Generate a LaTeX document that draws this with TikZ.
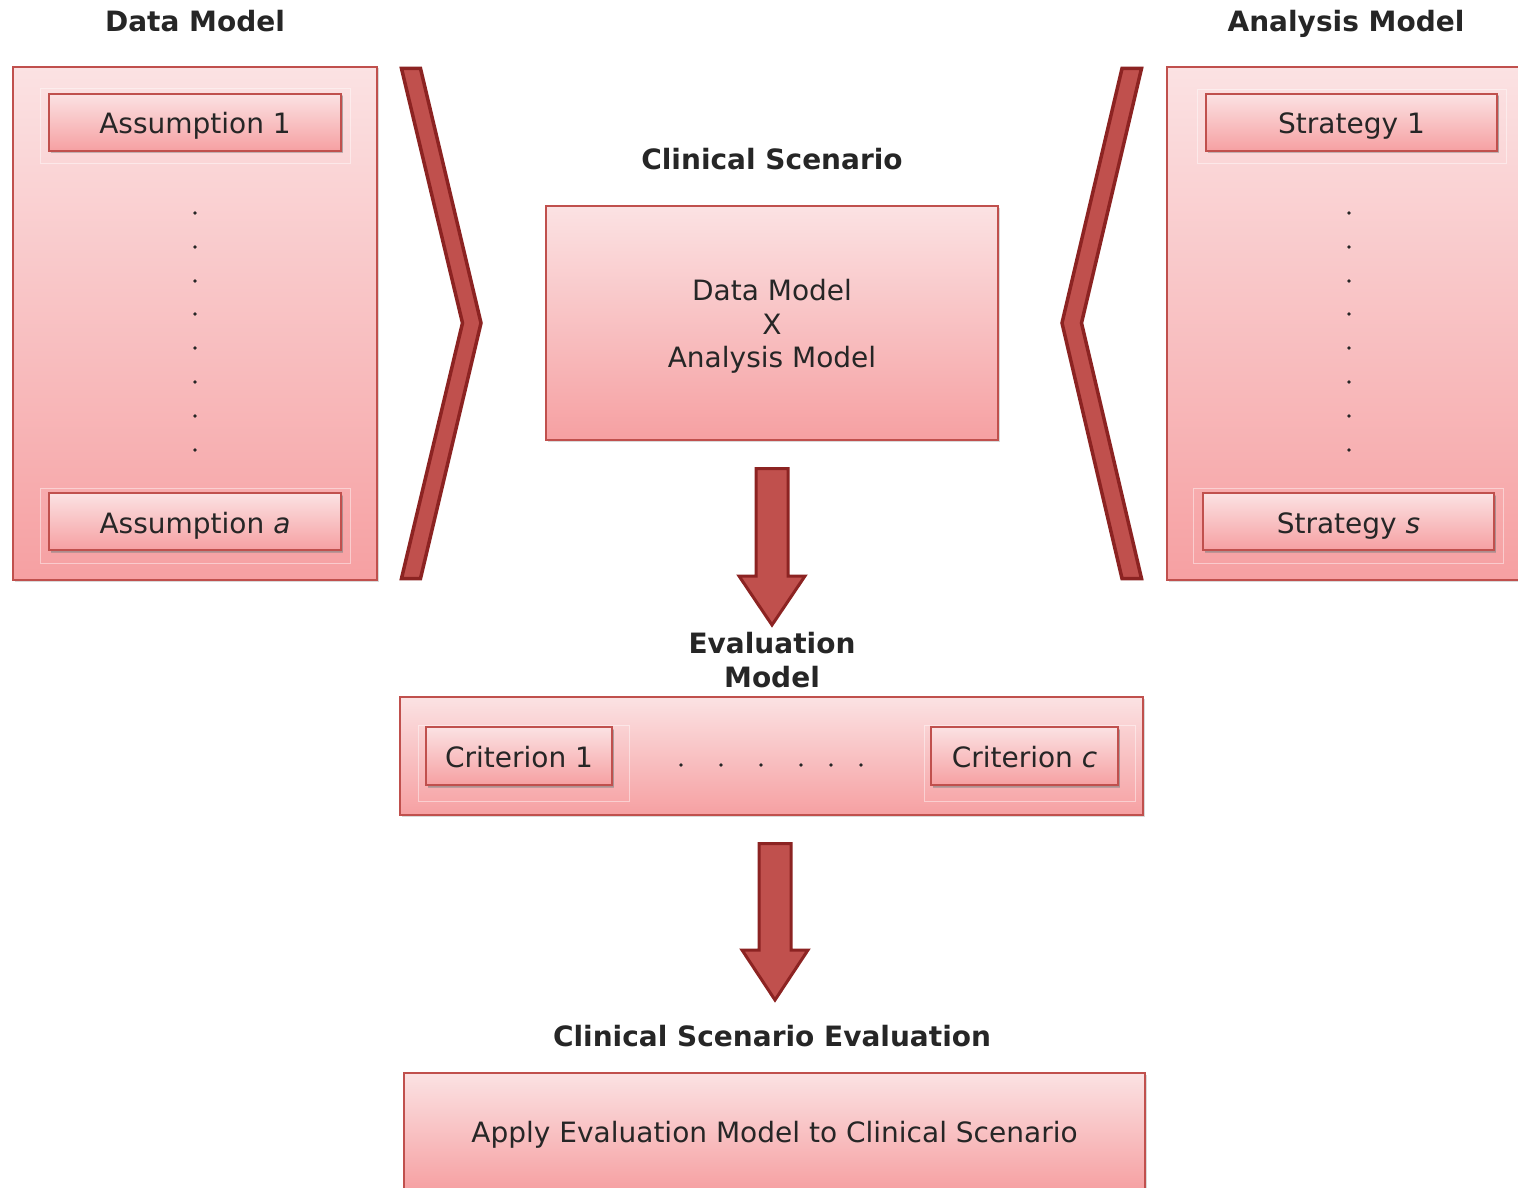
\documentclass[tikz,border=0pt]{standalone}
\usepackage{fontspec}
\setmainfont{DejaVu Sans}
\usetikzlibrary{shadows}
\definecolor{boxtop}{RGB}{251,226,227}
\definecolor{boxbot}{RGB}{246,160,162}
\definecolor{redline}{RGB}{192,80,77}
\definecolor{darkred}{RGB}{140,35,34}
\definecolor{txt}{RGB}{38,38,38}
\tikzset{
  panel/.style={draw=redline, line width=1.2pt, top color=boxtop, bottom color=boxbot,
    inner sep=0pt, text=txt, align=center, font=\fontsize{28}{33.5}\selectfont,
    drop shadow={opacity=0.3, shadow xshift=1.5pt, shadow yshift=-1.5pt}},
  oneline/.style={text height=23pt, text depth=0pt},
  itembox/.style={panel, oneline, line width=1.5pt,
    drop shadow={opacity=0.45, shadow xshift=2pt, shadow yshift=-2.5pt}},
  ttl/.style={font=\bfseries\fontsize{28}{34}\selectfont, text=txt, align=center, inner sep=0pt},
  chev/.style={fill=redline, draw=darkred, line width=3.5pt, line join=miter},
  blockarrow/.style={fill=redline, draw=darkred, line width=3pt, line join=miter},
  glow/.style={draw=white, opacity=0.45, line width=0.8pt},
  dotmark/.style={fill=txt},
}
\begin{document}
\begin{tikzpicture}[x=1pt,y=-1pt]
\useasboundingbox (0,0) rectangle (1518,1188);

% titles
\node[ttl, anchor=base] (tdm) at (195,32) {Data Model};
\node[ttl, anchor=base] (tam) at (1346,32) {Analysis Model};
\node[ttl, anchor=base] (tcs) at (772,169) {Clinical Scenario};
\node[ttl] (tem) at (772,660) {Evaluation\\Model};
\node[ttl, anchor=base] (tcse) at (772,1046) {Clinical Scenario Evaluation};

% left panel (data model)
\node[panel, minimum width=364pt, minimum height=513pt] (dm) at (195,323.5) {};
\draw[glow] (40,88) rectangle (350,163);
\draw[glow] (40,488) rectangle (350,563);
\node[itembox, minimum width=292pt, minimum height=57pt] (a1) at (195,122.5) {Assumption 1};
\node[itembox, minimum width=292pt, minimum height=57pt] (aa) at (195,521.5) {Assumption \textit{a}};
\foreach \y in {213,247,281,314,348,382,416,450} \fill[dotmark] (195,\y) circle (1.8);

% right panel (analysis model)
\node[panel, minimum width=372pt, minimum height=513pt] (am) at (1353,323.5) {};
\draw[glow] (1197,89) rectangle (1506,163);
\draw[glow] (1193,488) rectangle (1503,563);
\node[itembox, minimum width=291pt, minimum height=57pt] (s1) at (1351.5,122.5) {Strategy 1};
\node[itembox, minimum width=291pt, minimum height=57pt] (ss) at (1348.5,521.5) {Strategy \textit{s}};
\foreach \y in {213,247,281,314,348,382,416,450} \fill[dotmark] (1349,\y) circle (1.8);

% chevrons
\draw[chev] (401.5,68.5) -- (420.5,68.5) -- (481,323) -- (420.5,578.5) -- (401.5,578.5) -- (462.5,323) -- cycle;
\draw[chev] (1122,68.5) -- (1141.5,68.5) -- (1081.5,323) -- (1141.5,578.5) -- (1122,578.5) -- (1062,323) -- cycle;

% clinical scenario box
\node[panel, text height=89.4pt, text depth=0pt, minimum width=452pt, minimum height=234pt] (cs) at (772,323) {Data Model\\X\\Analysis Model};

% arrow 1
\draw[blockarrow] (756,468.5) -- (788,468.5) -- (788,576) -- (805,576) -- (772,625) -- (739,576) -- (756,576) -- cycle;

% evaluation model box
\node[panel, minimum width=743pt, minimum height=118pt] (em) at (771.5,756) {};
\draw[glow] (418,725) rectangle (629,801);
\draw[glow] (924,725) rectangle (1135,801);
\node[itembox, minimum width=186pt, minimum height=58pt] (c1) at (519,756) {Criterion 1};
\node[itembox, minimum width=187pt, minimum height=58pt] (cc) at (1024.5,756) {Criterion \textit{c}};
\foreach \x in {681,721,761,801,831,861} \fill[dotmark] (\x,765) circle (1.8);

% arrow 2
\draw[blockarrow] (759,843.5) -- (791,843.5) -- (791,950) -- (808,950) -- (775,1000) -- (742,950) -- (759,950) -- cycle;

% evaluation box
\node[panel, text height=21pt, text depth=0pt, minimum width=741pt, minimum height=118pt] (cse) at (774.5,1132) {Apply Evaluation Model to Clinical Scenario};
\end{tikzpicture}
\end{document}
